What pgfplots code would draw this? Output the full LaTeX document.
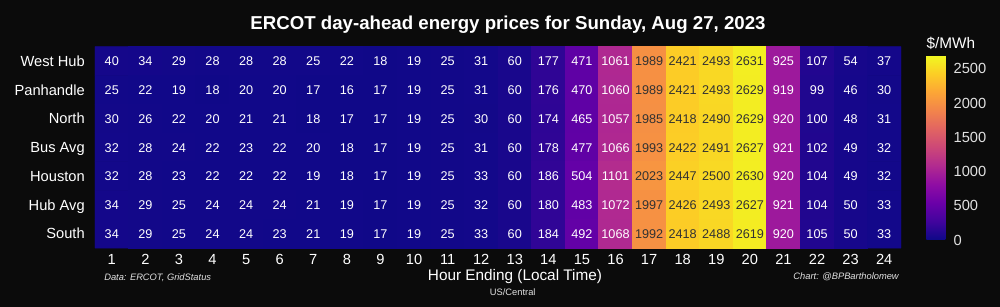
\documentclass[border=0pt]{standalone}
\usepackage{pgfplots}
\usepackage{pgfplotstable}
\pgfplotsset{compat=1.18}
\usepackage{fontspec}
\setmainfont{Liberation Sans}
\definecolor{bgc}{RGB}{11,11,11}
\definecolor{darklbl}{RGB}{50,50,50}
\definecolor{lightlbl}{RGB}{225,225,225}

\pgfplotstableread[row sep=\\]{
x y c\\
1 0 40\\ 2 0 34\\ 3 0 29\\ 4 0 28\\ 5 0 28\\ 6 0 28\\ 7 0 25\\ 8 0 22\\ 9 0 18\\ 10 0 19\\ 11 0 25\\ 12 0 31\\ 13 0 60\\ 14 0 177\\ 15 0 471\\ 16 0 1061\\ 17 0 1989\\ 18 0 2421\\ 19 0 2493\\ 20 0 2631\\ 21 0 925\\ 22 0 107\\ 23 0 54\\ 24 0 37\\
1 1 25\\ 2 1 22\\ 3 1 19\\ 4 1 18\\ 5 1 20\\ 6 1 20\\ 7 1 17\\ 8 1 16\\ 9 1 17\\ 10 1 19\\ 11 1 25\\ 12 1 31\\ 13 1 60\\ 14 1 176\\ 15 1 470\\ 16 1 1060\\ 17 1 1989\\ 18 1 2421\\ 19 1 2493\\ 20 1 2629\\ 21 1 919\\ 22 1 99\\ 23 1 46\\ 24 1 30\\
1 2 30\\ 2 2 26\\ 3 2 22\\ 4 2 20\\ 5 2 21\\ 6 2 21\\ 7 2 18\\ 8 2 17\\ 9 2 17\\ 10 2 19\\ 11 2 25\\ 12 2 30\\ 13 2 60\\ 14 2 174\\ 15 2 465\\ 16 2 1057\\ 17 2 1985\\ 18 2 2418\\ 19 2 2490\\ 20 2 2629\\ 21 2 920\\ 22 2 100\\ 23 2 48\\ 24 2 31\\
1 3 32\\ 2 3 28\\ 3 3 24\\ 4 3 22\\ 5 3 23\\ 6 3 22\\ 7 3 20\\ 8 3 18\\ 9 3 17\\ 10 3 19\\ 11 3 25\\ 12 3 31\\ 13 3 60\\ 14 3 178\\ 15 3 477\\ 16 3 1066\\ 17 3 1993\\ 18 3 2422\\ 19 3 2491\\ 20 3 2627\\ 21 3 921\\ 22 3 102\\ 23 3 49\\ 24 3 32\\
1 4 32\\ 2 4 28\\ 3 4 23\\ 4 4 22\\ 5 4 22\\ 6 4 22\\ 7 4 19\\ 8 4 18\\ 9 4 17\\ 10 4 19\\ 11 4 25\\ 12 4 33\\ 13 4 60\\ 14 4 186\\ 15 4 504\\ 16 4 1101\\ 17 4 2023\\ 18 4 2447\\ 19 4 2500\\ 20 4 2630\\ 21 4 920\\ 22 4 104\\ 23 4 49\\ 24 4 32\\
1 5 34\\ 2 5 29\\ 3 5 25\\ 4 5 24\\ 5 5 24\\ 6 5 24\\ 7 5 21\\ 8 5 19\\ 9 5 17\\ 10 5 19\\ 11 5 25\\ 12 5 32\\ 13 5 60\\ 14 5 180\\ 15 5 483\\ 16 5 1072\\ 17 5 1997\\ 18 5 2426\\ 19 5 2493\\ 20 5 2627\\ 21 5 921\\ 22 5 104\\ 23 5 50\\ 24 5 33\\
1 6 34\\ 2 6 29\\ 3 6 25\\ 4 6 24\\ 5 6 24\\ 6 6 23\\ 7 6 21\\ 8 6 19\\ 9 6 17\\ 10 6 19\\ 11 6 25\\ 12 6 33\\ 13 6 60\\ 14 6 184\\ 15 6 492\\ 16 6 1068\\ 17 6 1992\\ 18 6 2418\\ 19 6 2488\\ 20 6 2619\\ 21 6 920\\ 22 6 105\\ 23 6 50\\ 24 6 33\\
}\datatable

\begin{document}
\begin{tikzpicture}
\fill[bgc] (-71.25pt,-44.25pt) rectangle ++(750pt,230.25pt);
\begin{axis}[
  at={(0pt,0pt)}, anchor=south west,
  scale only axis, width=604.5pt, height=151pt,
  xmin=0.5, xmax=24.5, ymin=-0.5, ymax=6.5, y dir=reverse,
  axis line style={draw=none}, major tick length=0pt,
  xtick={1,...,24}, ytick={0,...,6},
  yticklabels={West Hub, Panhandle, North, Bus Avg, Houston, Hub Avg, South},
  tick label style={font=\fontsize{11}{13}\selectfont, text=white},
  yticklabel style={inner sep=0pt, xshift=-7.5pt, text height=8pt, text depth=0pt},
  xticklabel style={inner sep=0pt, yshift=-4.5pt},
  /pgf/number format/assume math mode=true,
  colormap={plasma}{rgb255=(13,8,135) rgb255=(65,4,157) rgb255=(106,0,168) rgb255=(143,13,164) rgb255=(177,42,144) rgb255=(204,71,120) rgb255=(225,100,98) rgb255=(242,132,75) rgb255=(252,166,54) rgb255=(252,206,37) rgb255=(240,249,33)},
  point meta min=0, point meta max=2700,
  colorbar,
  colorbar style={
    at={(parent axis.south east)}, anchor=south west, xshift=10.5pt, yshift=6pt,
    scale only axis, width=17.25pt, height=138.75pt,
    axis line style={draw=none}, major tick length=0pt,
    ytick={0,500,1000,1500,2000,2500},
    yticklabel style={font=\fontsize{11}{13}\selectfont, text=lightlbl, inner sep=0pt, xshift=3pt, /pgf/number format/1000 sep={}},
    /pgf/number format/assume math mode=true,
    title={\$/MWh},
    title style={at={(0,1)}, anchor=base west, yshift=-1.5pt, inner sep=0pt, font=\fontsize{11.5}{13}\selectfont, text=white},
  },
]
\addplot[matrix plot*, shader=flat corner, mesh/cols=24, point meta=explicit]
  table[x=x, y=y, meta=c] {\datatable};
\addplot[only marks, mark=none, point meta=explicit,
  nodes near coords={\ifdim\pgfplotspointmetatransformed pt>555pt\color{darklbl}\else\color{white}\fi\pgfmathprintnumber[fixed,precision=0,1000 sep={}]{\pgfplotspointmeta}},
  nodes near coords align=center,
  every node near coord/.append style={font=\fontsize{9.5}{11}\selectfont, anchor=center, inner sep=0pt, text height=7pt, text depth=0pt}]
  table[x=x, y=y, meta=c] {\datatable};
\end{axis}
\node[anchor=base, inner sep=0pt, text=white, font=\fontsize{14}{16}\selectfont\bfseries] at (309.75pt,163.5pt) {ERCOT day-ahead energy prices for Sunday, Aug 27, 2023};
\node[anchor=base, inner sep=0pt, text=white, font=\fontsize{11.5}{13}\selectfont] at (315pt,-24.75pt) {Hour Ending (Local Time)};
\node[anchor=base, inner sep=0pt, text=lightlbl, font=\fontsize{7}{8}\selectfont] at (313.3pt,-35.8pt) {US/Central};
\node[anchor=base west, inner sep=0pt, text=lightlbl, font=\fontsize{7}{8}\selectfont\itshape] at (6.75pt,-24.5pt) {Data: ERCOT, GridStatus};
\node[anchor=base east, inner sep=0pt, text=lightlbl, font=\fontsize{7}{8}\selectfont\itshape] at (603pt,-23.6pt) {Chart: @BPBartholomew};
\pgfresetboundingbox
\path (-71.25pt,-44.25pt) rectangle ++(750pt,230.25pt);
\end{tikzpicture}
\end{document}
